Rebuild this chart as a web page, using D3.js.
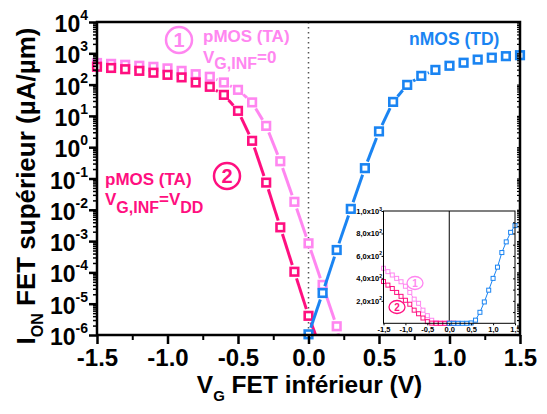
<!DOCTYPE html>
<html><head><meta charset="utf-8">
<script src="https://cdn.jsdelivr.net/npm/d3@7"></script>
<style>
html,body{margin:0;padding:0;background:#fff;}
svg{display:block;font-family:"Liberation Sans",Arial,sans-serif;}
</style></head>
<body><svg id="c" width="547" height="414"></svg>
<script>
// ---- data ----
const vgP = [-1.5,-1.4,-1.3,-1.2,-1.1,-1.0,-0.9,-0.8,-0.7,-0.6,-0.5,-0.4,-0.3,-0.2,-0.1,0.0,0.1,0.2,0.3];
const pmos1 = [490,460,430,400,370,330,275,215,178,117,68,27,4.8,0.355,0.018,8.5e-4,4e-5,1.9e-6,1e-8];
const vgP2 = [-1.5,-1.4,-1.3,-1.2,-1.1,-1.0,-0.9,-0.8,-0.7,-0.6,-0.5,-0.4,-0.3,-0.2,-0.1,0.0,0.1];
const pmos2 = [372,340,310,275,240,205,170,117,85,47,14.5,1.6,0.074,2.75e-3,1.05e-4,4.1e-6,2.5e-7];
const vgN = [0.0,0.1,0.2,0.3,0.4,0.5,0.6,0.7,0.8,0.9,1.0,1.1,1.2,1.3,1.4,1.5];
const nmos = [1.05e-6,2.2e-5,5.2e-4,0.0107,0.214,3.2,28,98,190,295,400,500,630,725,810,870];
const xTicks = [-1.5,-1.0,-0.5,0.0,0.5,1.0,1.5];
const yExps = [-6,-5,-4,-3,-2,-1,0,1,2,3,4];
const insetYTicks = [200,400,600,800,1000];
const insetYLabels = ["2,0x10","4,0x10","6,0x10","8,0x10","1,0x10"];
const insetYSup = ["2","2","2","2","3"];
const insetXLabels = ["-1,5","-1,0","-0,5","0,0","0,5","1,0","1,5"];

const C1 = "#ff86f0", C2 = "#ff0f80", CN = "#1a84f2";
const FONT = "'Liberation Sans',Arial,sans-serif";

const svg = d3.select("#c");
const L=97, R=520, T=22, B=335;
const x = d3.scaleLinear().domain([-1.5,1.5]).range([L,R]);
const y = d3.scaleLog().domain([1e-6,1e4]).range([B,T]);

svg.append("defs").append("clipPath").attr("id","pc")
  .append("rect").attr("x",L).attr("y",T).attr("width",R-L).attr("height",B-T);

// dotted zero line
svg.append("line").attr("x1",x(0)).attr("x2",x(0)).attr("y1",T).attr("y2",B)
  .attr("stroke","#555").attr("stroke-width",1.5).attr("stroke-dasharray","1.5,3.5");

// series
function series(xs, ys, color){
  const pts = xs.map((v,i)=>[x(v), y(ys[i]), ys[i]]);
  const g = svg.append("g");
  const gl = g.append("g").attr("clip-path","url(#pc)");
  const gap = 7;
  for(let i=0;i<pts.length-1;i++){
    const [x1,y1]=pts[i],[x2,y2]=pts[i+1];
    const dx=x2-x1, dy=y2-y1, len=Math.hypot(dx,dy);
    const g2 = (pts[i+1][2] < 1e-6) ? 0 : gap;
    if(len <= gap + g2 + 1) continue;
    const ux=dx/len, uy=dy/len;
    gl.append("line").attr("x1",x1+ux*gap).attr("y1",y1+uy*gap)
      .attr("x2",x2-ux*g2).attr("y2",y2-uy*g2)
      .attr("stroke",color).attr("stroke-width",3);
  }
  g.selectAll("rect").data(pts.filter(p=>p[2]>=0.9e-6)).join("rect")
    .attr("x",p=>p[0]-3.8).attr("y",p=>p[1]-3.8).attr("width",7.6).attr("height",7.6)
    .attr("fill","#fff").attr("stroke",color).attr("stroke-width",2.6);
}
series(vgP, pmos1, C1);
series(vgP2, pmos2, C2);
series(vgN, nmos, CN);

// axes
const bottom = svg.append("g").attr("transform",`translate(0,${B})`)
  .call(d3.axisBottom(x).tickValues(xTicks).tickSize(9).tickFormat(d=>d.toFixed(1)));
bottom.select(".domain").remove();
bottom.selectAll(".tick line").attr("stroke","#000").attr("stroke-width",2.5);
bottom.selectAll(".tick text").attr("font-family",FONT).attr("font-size",24).attr("font-weight","bold").attr("fill","#000").attr("y",12).attr("dy","0.78em");
const bMinor = svg.append("g").attr("transform",`translate(0,${B})`)
  .call(d3.axisBottom(x).tickValues(d3.range(-1.25,1.5,0.5)).tickSize(5).tickFormat(""));
bMinor.select(".domain").remove();
bMinor.selectAll(".tick line").attr("stroke","#000").attr("stroke-width",2);

const left = svg.append("g").attr("transform",`translate(${L},0)`)
  .call(d3.axisLeft(y).tickValues(yExps.map(e=>Math.pow(10,e))).tickSize(8).tickFormat(""));
left.select(".domain").remove();
left.selectAll(".tick line").attr("stroke","#000").attr("stroke-width",2.5);
left.selectAll(".tick").append("text").data(yExps)
  .attr("x",-9).attr("y",9.5).attr("text-anchor","end")
  .attr("font-family",FONT).attr("font-weight","bold").attr("fill","#000")
  .each(function(e){
    const t=d3.select(this);
    t.append("tspan").attr("font-size",23).text("10");
    t.append("tspan").attr("font-size",14).attr("dy",-12).text(e);
  });
const minorVals=[];
for(let e=-6;e<4;e++) for(let m=2;m<10;m++) minorVals.push(m*Math.pow(10,e));
const lMinor = svg.append("g").attr("transform",`translate(${L},0)`)
  .call(d3.axisLeft(y).tickValues(minorVals).tickSize(4).tickFormat(""));
lMinor.select(".domain").remove();
lMinor.selectAll(".tick line").attr("stroke","#000").attr("stroke-width",1.5);
const rMinor = svg.append("g").attr("transform",`translate(${R},0)`)
  .call(d3.axisLeft(y).tickValues(minorVals.concat(yExps.map(e=>Math.pow(10,e)))).tickSize(3).tickFormat(""));
rMinor.select(".domain").remove();
rMinor.selectAll(".tick line").attr("stroke","#000").attr("stroke-width",1.2);

// frame
svg.append("rect").attr("x",L).attr("y",T).attr("width",R-L).attr("height",B-T)
  .attr("fill","none").attr("stroke","#000").attr("stroke-width",2.5);

// axis titles
const xt = svg.append("text").attr("x",(L+R)/2+1).attr("y",393).attr("text-anchor","middle")
  .attr("font-family",FONT).attr("font-weight","bold").attr("font-size",24.5).attr("fill","#000");
xt.append("tspan").text("V");
xt.append("tspan").attr("font-size",15).attr("dy",8).text("G");
xt.append("tspan").attr("dy",-8).text(" FET inférieur (V)");

const yt = svg.append("text").attr("transform",`translate(35,186) rotate(-90)`).attr("text-anchor","middle")
  .attr("font-family",FONT).attr("font-weight","bold").attr("font-size",26).attr("fill","#000");
yt.append("tspan").text("I");
yt.append("tspan").attr("font-size",16).attr("dy",8).text("ON");
yt.append("tspan").attr("dy",-8).text(" FET supérieur (µA/µm)");

// annotations
function circ(cx,cy,r,col,txt,fs,sw){
  svg.append("circle").attr("cx",cx).attr("cy",cy).attr("r",r).attr("fill","none").attr("stroke",col).attr("stroke-width",sw);
  svg.append("text").attr("x",cx).attr("y",cy).attr("dy","0.36em").attr("text-anchor","middle")
    .attr("font-family",FONT).attr("font-size",fs).attr("font-weight","bold").attr("fill",col).text(txt);
}
function label(xp,yp,col,fs,parts){
  const t=svg.append("text").attr("x",xp).attr("y",yp).attr("font-family",FONT).attr("font-weight","bold").attr("font-size",fs).attr("fill",col);
  parts.forEach(p=>{
    const s=t.append("tspan").text(p[0]);
    if(p[1]) s.attr("font-size",p[1]);
    if(p[2]) s.attr("dy",p[2]);
  });
}
circ(179,40,13,C1,"1",20,2.5);
label(203,42,C1,17,[["pMOS (TA)"]]);
label(203,63,C1,17,[["V"],["G,INF",16,5.5],["=0",null,-5.5]]);
circ(227,176,13,C2,"2",20,2.5);
label(105,185,C2,17,[["pMOS (TA)"]]);
label(105,205,C2,17,[["V"],["G,INF",16,8],["=V",null,-8],["DD",16,8]]);
label(409,45,CN,17.5,[["nMOS (TD)"]]);

// ---- inset ----
const IL=383.5, IR=515, IT=211, IB=323.3;
const ix = d3.scaleLinear().domain([-1.5,1.5]).range([IL,IR]);
const iy = d3.scaleLinear().domain([0,1000]).range([IB,IT]);
svg.append("rect").attr("x",IL).attr("y",IT).attr("width",IR-IL).attr("height",IB-IT).attr("fill","#fff");
svg.append("line").attr("x1",ix(0)).attr("x2",ix(0)).attr("y1",IT).attr("y2",IB).attr("stroke","#000").attr("stroke-width",1);
function iseries(xs,ys,col){
  const d = xs.map((v,i)=>[ix(v),iy(ys[i])]);
  svg.append("path").attr("d",d3.line()(d)).attr("fill","none").attr("stroke",col).attr("stroke-width",1);
  svg.append("g").selectAll("rect").data(d).join("rect")
    .attr("x",p=>p[0]-2).attr("y",p=>p[1]-2).attr("width",4).attr("height",4)
    .attr("fill","#fff").attr("stroke",col).attr("stroke-width",1);
}
iseries(vgP.slice(0,-1), pmos1.slice(0,-1), C1);
iseries(vgP2, pmos2, C2);
iseries(vgN, nmos, CN);
svg.append("rect").attr("x",IL).attr("y",IT).attr("width",IR-IL).attr("height",IB-IT).attr("fill","none").attr("stroke","#000").attr("stroke-width",1);
const ia = svg.append("g").attr("transform",`translate(${IL},0)`)
  .call(d3.axisLeft(iy).tickValues(insetYTicks).tickSize(2).tickFormat(""));
ia.select(".domain").remove();
ia.selectAll(".tick").append("text").data(insetYTicks.map((v,i)=>i))
  .attr("x",-1.5).attr("y",2.5).attr("text-anchor","end").attr("font-family",FONT).attr("font-weight","bold").attr("fill","#000")
  .each(function(i){
    const t=d3.select(this);
    t.append("tspan").attr("font-size",7.5).text(insetYLabels[i]);
    t.append("tspan").attr("font-size",5).attr("dy",-3.5).text(insetYSup[i]);
  });
const iaR = svg.append("g").attr("transform",`translate(${IR},0)`)
  .call(d3.axisLeft(iy).tickValues(d3.range(100,1000,100)).tickSize(2).tickFormat(""));
iaR.select(".domain").remove();
const ib = svg.append("g").attr("transform",`translate(0,${IB})`)
  .call(d3.axisBottom(ix).tickValues(xTicks).tickSize(2).tickFormat((d,i)=>insetXLabels[i]));
ib.select(".domain").remove();
ib.selectAll(".tick text").attr("font-family",FONT).attr("font-weight","bold").attr("font-size",7.5).attr("fill","#000").attr("y",3).attr("dy","0.71em");
function icirc(cx,cy,col,txt){
  svg.append("ellipse").attr("cx",cx).attr("cy",cy).attr("rx",8).attr("ry",6.5).attr("fill","none").attr("stroke",col).attr("stroke-width",1.3);
  svg.append("text").attr("x",cx).attr("y",cy).attr("dy","0.36em").attr("text-anchor","middle").attr("font-family",FONT).attr("font-size",10).attr("font-weight","bold").attr("fill",col).text(txt);
}
icirc(415,283,C1,"1");
icirc(397,307,C2,"2");
</script></body></html>
